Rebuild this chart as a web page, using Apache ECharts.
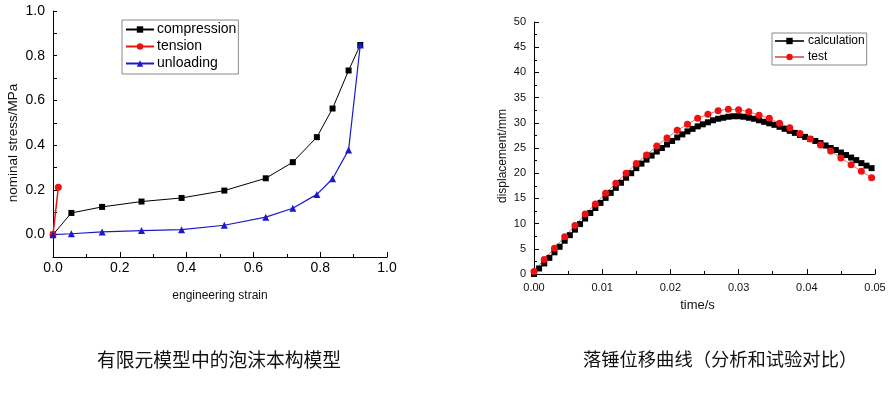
<!DOCTYPE html>
<html>
<head>
<meta charset="utf-8">
<script src="https://cdn.jsdelivr.net/npm/echarts@6/dist/echarts.min.js"></script>
<style>
html,body{margin:0;padding:0;background:#fff;}
#chart{width:892px;height:394px;}
</style>
</head>
<body>
<div id="chart"></div>
<script>
// ---- Left chart: foam constitutive model ----
const compStrain = [0, 0.055, 0.147, 0.265, 0.385, 0.513, 0.637, 0.718, 0.79, 0.837, 0.885, 0.92];
const compStress = [0, 0.097, 0.124, 0.148, 0.164, 0.197, 0.252, 0.324, 0.436, 0.564, 0.734, 0.848];
const tensStrain = [0, 0.016];
const tensStress = [0, 0.212];
const unlStrain = [0, 0.055, 0.147, 0.265, 0.385, 0.513, 0.637, 0.718, 0.79, 0.837, 0.885, 0.92];
const unlStress = [0, 0.004, 0.012, 0.018, 0.022, 0.042, 0.078, 0.118, 0.18, 0.25, 0.379, 0.848];
const leftNames = ['compression', 'tension', 'unloading'];

// ---- Right chart: drop hammer displacement ----
const calcTime = [0, 0.00075, 0.0015, 0.00225, 0.003, 0.00375, 0.0045, 0.00525, 0.006, 0.00675,
  0.0075, 0.00825, 0.009, 0.00975, 0.0105, 0.01125, 0.012, 0.01275, 0.0135, 0.01425,
  0.015, 0.01575, 0.0165, 0.01725, 0.018, 0.01875, 0.0195, 0.02025, 0.021, 0.02175,
  0.0225, 0.02325, 0.024, 0.02475, 0.0255, 0.02625, 0.027, 0.02775, 0.0285, 0.02925,
  0.03, 0.03075, 0.0315, 0.03225, 0.033, 0.03375, 0.0345, 0.03525, 0.036, 0.03675,
  0.0375, 0.03825, 0.039, 0.03975, 0.0405, 0.04125, 0.042, 0.04275, 0.0435, 0.04425,
  0.045, 0.04575, 0.0465, 0.04725, 0.048, 0.04875, 0.0495];
const calcDisp = [0.0, 1.1, 2.1, 3.2, 4.3, 5.4, 6.6, 7.7, 8.8, 9.9,
  11.0, 12.1, 13.1, 14.1, 15.1, 16.1, 17.1, 18.1, 19.1, 20.0,
  21.0, 21.9, 22.7, 23.5, 24.3, 25.0, 25.7, 26.4, 27.1, 27.7,
  28.3, 28.8, 29.3, 29.7, 30.1, 30.5, 30.8, 31.0, 31.2, 31.3,
  31.3, 31.2, 31.0, 30.8, 30.5, 30.2, 29.9, 29.6, 29.2, 28.8,
  28.4, 28.0, 27.6, 27.2, 26.8, 26.4, 26.0, 25.5, 25.0, 24.6,
  24.1, 23.6, 23.1, 22.6, 22.0, 21.5, 21.0];
const testTime = [0, 0.0015, 0.003, 0.0045, 0.006, 0.0075, 0.009, 0.0105, 0.012, 0.0135,
  0.015, 0.0165, 0.018, 0.0195, 0.021, 0.0225, 0.024, 0.0255, 0.027, 0.0285,
  0.03, 0.0315, 0.033, 0.0345, 0.036, 0.0375, 0.039, 0.0405, 0.042, 0.0435,
  0.045, 0.0465, 0.048, 0.0495];
const testDisp = [0.5, 2.9, 5.1, 7.4, 9.6, 11.9, 13.9, 16.0, 18.0, 20.0,
  21.9, 23.6, 25.4, 27.0, 28.5, 29.7, 30.9, 31.7, 32.4, 32.7,
  32.6, 32.2, 31.5, 30.9, 29.9, 29.0, 27.9, 26.8, 25.6, 24.4,
  23.0, 21.7, 20.4, 19.1];
const rightNames = ['calculation', 'test'];

// ---- captions ----
const leftCaption = '有限元模型中的泡沫本构模型';
const rightCaption = '落锤位移曲线（分析和试验对比）';

const zip = (a, b) => a.map((v, i) => [v, b[i]]);
const FONT = '"Liberation Sans", Arial, sans-serif';

const axisBase = {
  type: 'value',
  splitLine: { show: false },
  axisLine: { onZero: false, lineStyle: { color: '#000', width: 1 } },
  axisTick: { inside: true, length: 5, lineStyle: { color: '#000' } },
  minorTick: { show: true, splitNumber: 2, length: 3, lineStyle: { color: '#000' } },
  nameLocation: 'middle',
  nameTextStyle: { fontFamily: FONT, color: '#111' }
};

const option = {
  backgroundColor: '#fff',
  animation: false,
  grid: [
    { left: 53, top: 11, width: 334, height: 246 },
    { left: 534, top: 22, width: 341, height: 252 }
  ],
  xAxis: [
    Object.assign({}, axisBase, {
      gridIndex: 0, min: 0, max: 1, interval: 0.2,
      name: 'engineering strain', nameGap: 33,
      nameTextStyle: { fontFamily: FONT, color: '#111', fontSize: 12 },
      axisLabel: { margin: 4, fontSize: 14, color: '#000', fontFamily: FONT,
        formatter: v => v.toFixed(1) }
    }),
    Object.assign({}, axisBase, {
      gridIndex: 1, min: 0, max: 0.05, interval: 0.01,
      name: 'time/s', nameGap: 25,
      nameTextStyle: { fontFamily: FONT, color: '#111', fontSize: 13, padding: [0, 14, 0, 0] },
      axisLabel: { margin: 8, fontSize: 11, color: '#111', fontFamily: FONT,
        formatter: v => v.toFixed(2) }
    })
  ],
  yAxis: [
    Object.assign({}, axisBase, {
      gridIndex: 0, min: -0.1, max: 1.0, interval: 0.1,
      minorTick: { show: false },
      axisTick: { inside: true, length: 4, lineStyle: { color: '#000' } },
      name: 'nominal stress/MPa', nameGap: 33, nameRotate: 90,
      nameTextStyle: { fontFamily: FONT, color: '#111', fontSize: 13.5, padding: [0, 18, 0, 0] },
      axisLabel: { margin: 8, fontSize: 14, color: '#000', fontFamily: FONT,
        formatter: v => {
          const k = Math.round(v * 10);
          return (k >= 0 && k % 2 === 0) ? (k / 10).toFixed(1) : '';
        } }
    }),
    Object.assign({}, axisBase, {
      gridIndex: 1, min: 0, max: 50, interval: 5,
      name: 'displacement/mm', nameGap: 25, nameRotate: 90,
      nameTextStyle: { fontFamily: FONT, color: '#111', fontSize: 12, padding: [0, 16, 0, 0] },
      axisLabel: { margin: 8, fontSize: 11, color: '#111', fontFamily: FONT }
    })
  ],
  legend: [
    {
      data: leftNames,
      left: 122, top: 20,
      orient: 'vertical',
      borderColor: '#888', borderWidth: 1,
      padding: [2, 2, 3, 3],
      itemGap: 2, itemWidth: 28, itemHeight: 8,
      textStyle: { fontFamily: FONT, fontSize: 14, color: '#000', lineHeight: 15, padding: [0, 0, 0, -2] }
    },
    {
      data: rightNames,
      left: 772, top: 33,
      orient: 'vertical',
      borderColor: '#888', borderWidth: 1,
      padding: [2, 2, 2, 2],
      itemGap: 4, itemWidth: 29, itemHeight: 8,
      textStyle: { fontFamily: FONT, fontSize: 12, color: '#000', lineHeight: 12, padding: [0, 0, 0, -1] }
    }
  ],
  series: [
    {
      name: 'compression', type: 'line', xAxisIndex: 0, yAxisIndex: 0,
      data: zip(compStrain, compStress),
      symbol: 'rect', symbolSize: 6,
      lineStyle: { color: '#000', width: 1 },
      itemStyle: { color: '#000' }
    },
    {
      name: 'tension', type: 'line', xAxisIndex: 0, yAxisIndex: 0,
      data: zip(tensStrain, tensStress),
      symbol: 'circle', symbolSize: 7,
      lineStyle: { color: '#ee1111', width: 1.5 },
      itemStyle: { color: '#ee1111' }
    },
    {
      name: 'unloading', type: 'line', xAxisIndex: 0, yAxisIndex: 0,
      data: zip(unlStrain, unlStress),
      symbol: 'triangle', symbolSize: 7,
      lineStyle: { color: '#1a1acc', width: 1.2 },
      itemStyle: { color: '#1a1acc' }
    },
    {
      name: 'calculation', type: 'line', xAxisIndex: 1, yAxisIndex: 1,
      data: zip(calcTime, calcDisp),
      symbol: 'rect', symbolSize: 6,
      lineStyle: { color: '#333', width: 1 },
      itemStyle: { color: '#000' }
    },
    {
      name: 'test', type: 'line', xAxisIndex: 1, yAxisIndex: 1,
      data: zip(testTime, testDisp),
      symbol: 'circle', symbolSize: 7,
      lineStyle: { color: '#e07070', width: 1 },
      itemStyle: { color: '#ee1111' }
    }
  ],
  graphic: [
    {
      type: 'text', left: 97, top: 350,
      style: { text: leftCaption, font: '18.8px "Noto Sans CJK SC"', fill: '#111' }
    },
    {
      type: 'text', left: 583, top: 350,
      style: { text: rightCaption, font: '18.3px "Noto Sans CJK SC"', fill: '#111' }
    }
  ]
};

const chart = echarts.init(document.getElementById('chart'), null, { renderer: 'canvas' });
chart.setOption(option);
</script>
</body>
</html>
